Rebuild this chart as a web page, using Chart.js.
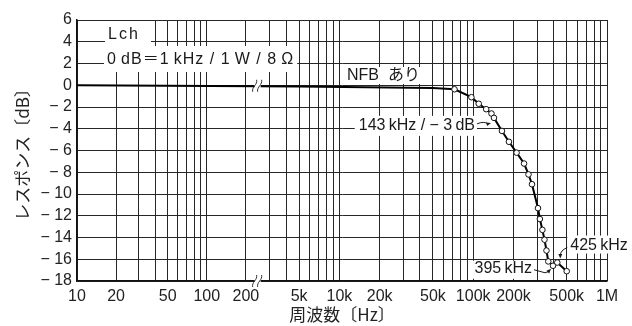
<!DOCTYPE html>
<html lang="ja">
<head>
<meta charset="UTF-8">
<title>周波数特性</title>
<style>
  html, body { margin: 0; padding: 0; background: #fff; }
  canvas { display: block; }
</style>
</head>
<body>
<canvas id="myChart" width="632" height="326"></canvas>

<script src="https://cdn.jsdelivr.net/npm/chart.js"></script>
<script>
// measured response with NFB (Lch), Hz / dB
const freqHz = [10, 5000, 50000, 72500, 97000, 110000, 125000, 137000, 143000, 164000, 185000, 211000,
                240000, 259000, 275000, 305000, 315000, 329000, 341000, 353000, 364000, 395000, 425000, 500000];
const responseDb = [0, -0.12, -0.25, -0.37, -1.1, -1.7, -2.2, -2.6, -3.0, -4.2, -5.2, -6.2,
                    -7.2, -8.2, -9.1, -11.3, -12.3, -13.3, -14.2, -15.2, -16.2, -16.6, -16.3, -17.1];
const markerFrom = 3; // points before this are the flat part, no circle

// vertical grid lines (the 300 Hz..2 kHz range is cut out of the axis)
const gridFreqs = [10, 20, 30, 40, 50, 60, 70, 80, 90, 100, 200,
                   3000, 4000, 5000, 6000, 7000, 8000, 9000, 10000,
                   20000, 30000, 40000, 50000, 60000, 70000, 80000, 90000, 100000,
                   200000, 300000, 400000, 500000, 600000, 700000, 800000, 900000, 1000000];
const labelFreqs = [10, 20, 50, 100, 200, 5000, 10000, 20000, 50000, 100000, 200000, 500000, 1000000];
const labelTexts = ['10', '20', '50', '100', '200', '5k', '10k', '20k', '50k', '100k', '200k', '500k', '1M'];

const dbMin = -18, dbMax = 6, dbStep = 2;

// log axis with a break: 200 Hz on the left part joins 2 kHz on the right part
function toAxis(f) {
    const left = (Math.log10(Math.min(f, 200)) - 1) * 0.97;
    if (f <= 250) return (Math.log10(f) - 1) * 0.97;
    return left + Math.log10(f / 2000);
}
const breakAt = (toAxis(200) + toAxis(3000)) / 2;

const points = freqHz.map((f, i) => ({x: toAxis(f), y: responseDb[i]}));

const numFont = {family: 'Liberation Sans', size: 16};
const jpFont = '16px "Liberation Sans", "Noto Sans CJK JP"';
const refText = '0\u2009dB\uff1d1\u2009kHz / 1\u2009W / 8\u2009\u03a9';
const cutText = '143\u2009kHz / \u2212 3\u2009dB';

function dbLabel(v) {
    return v < 0 ? '\u2212 ' + (-v) : String(v);
}

function arrowHead(ctx, x, y, ang) {
    ctx.beginPath();
    ctx.moveTo(x, y);
    ctx.lineTo(x - 5 * Math.cos(ang - 0.4), y - 5 * Math.sin(ang - 0.4));
    ctx.lineTo(x - 5 * Math.cos(ang + 0.4), y - 5 * Math.sin(ang + 0.4));
    ctx.closePath();
    ctx.fill();
}

const notes = {
    id: 'notes',
    beforeDatasetsDraw(chart) {
        const {ctx, chartArea: a, scales: {x, y}} = chart;
        ctx.save();
        ctx.font = jpFont;
        ctx.fillStyle = '#fff';
        // white boxes behind the texts
        ctx.fillRect(a.left + 28, a.top + 1, 46, 26);
        ctx.letterSpacing = '1px';
        const w2 = ctx.measureText(refText).width;
        ctx.fillRect(a.left + 27, a.top + 26, w2 + 6, 26);
        ctx.letterSpacing = '0px';
        ctx.fillRect(a.left + 266, a.top + 47, 80, 17);

        const p3 = {x: x.getPixelForValue(toAxis(143000)), y: y.getPixelForValue(-3)};
        const w3 = ctx.measureText(cutText).width;
        ctx.fillRect(p3.x - 19 - w3 - 4, p3.y - 2, w3 + 6, 20);

        const p395 = {x: x.getPixelForValue(toAxis(395000)), y: y.getPixelForValue(-16.6)};
        const w4 = ctx.measureText('395\u2009kHz').width;
        ctx.fillRect(p395.x - 21 - w4 - 3, p395.y - 5, w4 + 5, 18);

        const p425 = {x: x.getPixelForValue(toAxis(425000)), y: y.getPixelForValue(-16.3)};
        ctx.fillRect(p425.x + 10, p425.y - 27, 62, 18);
        ctx.restore();
    },
    afterDatasetsDraw(chart) {
        const {ctx, chartArea: a, scales: {x, y}} = chart;
        ctx.save();
        ctx.fillStyle = '#1a1a1a';
        ctx.strokeStyle = '#1a1a1a';
        ctx.lineWidth = 1;
        ctx.textBaseline = 'middle';
        ctx.font = jpFont;

        ctx.textAlign = 'left';
        ctx.letterSpacing = '2px';
        ctx.fillText('Lch', a.left + 31, a.top + 15);
        ctx.letterSpacing = '1px';
        ctx.fillText(refText, a.left + 30, a.top + 40);
        ctx.letterSpacing = '0px';
        ctx.fillText('NFB  \u3042\u308a', a.left + 270, a.top + 56);

        // -3 dB point
        const p3 = {x: x.getPixelForValue(toAxis(143000)), y: y.getPixelForValue(-3)};
        ctx.textAlign = 'right';
        ctx.fillText(cutText, p3.x - 19, p3.y + 8);
        ctx.beginPath();
        ctx.moveTo(p3.x - 17, p3.y + 6);
        ctx.quadraticCurveTo(p3.x - 10, p3.y + 3, p3.x - 6, p3.y + 6);
        ctx.stroke();
        arrowHead(ctx, p3.x - 3, p3.y + 5, -0.3);

        // 395 kHz
        const p395 = {x: x.getPixelForValue(toAxis(395000)), y: y.getPixelForValue(-16.6)};
        ctx.fillText('395\u2009kHz', p395.x - 21, p395.y + 3);
        ctx.beginPath();
        ctx.moveTo(p395.x - 19, p395.y + 4);
        ctx.lineTo(p395.x - 8, p395.y + 7);
        ctx.lineTo(p395.x - 5, p395.y + 6);
        ctx.stroke();
        arrowHead(ctx, p395.x - 2, p395.y + 3, -0.8);

        // 425 kHz
        const p425 = {x: x.getPixelForValue(toAxis(425000)), y: y.getPixelForValue(-16.3)};
        ctx.textAlign = 'left';
        ctx.fillText('425\u2009kHz', p425.x + 13, p425.y - 17);
        ctx.beginPath();
        ctx.moveTo(p425.x + 10, p425.y - 15);
        ctx.quadraticCurveTo(p425.x + 3, p425.y - 12, p425.x + 3, p425.y - 7);
        ctx.stroke();
        arrowHead(ctx, p425.x + 3, p425.y - 4, Math.PI / 2);

        // axis break marks
        const bx = x.getPixelForValue(breakAt);
        [y.getPixelForValue(-0.05), a.bottom].forEach(by => {
            ctx.fillStyle = '#fff';
            ctx.fillRect(bx - 3, by - 2, 6, 4);
            ctx.strokeStyle = '#333';
            for (const dx of [-3, 2]) {
                ctx.beginPath();
                ctx.moveTo(bx + dx - 2, by + 6);
                ctx.bezierCurveTo(bx + dx - 3, by + 1, bx + dx + 3, by - 1, bx + dx + 2, by - 6);
                ctx.stroke();
            }
        });
        ctx.restore();
    }
};

new Chart(document.getElementById('myChart'), {
    type: 'line',
    data: {
        datasets: [{
            label: 'NFB あり',
            data: points,
            borderColor: '#000',
            borderWidth: 2,
            tension: 0,
            pointRadius: c => c.dataIndex >= markerFrom ? 2.8 : 0,
            pointBackgroundColor: '#fff',
            pointBorderColor: '#111',
            pointBorderWidth: 1
        }]
    },
    options: {
        responsive: false,
        animation: false,
        devicePixelRatio: 1,
        layout: {padding: {top: 20, right: 25, left: 0, bottom: 0}},
        plugins: {legend: {display: false}, tooltip: {enabled: false}},
        scales: {
            x: {
                type: 'linear',
                min: 0,
                max: toAxis(1000000),
                afterBuildTicks: s => { s.ticks = gridFreqs.map(f => ({value: toAxis(f)})); },
                afterFit: s => { s.height = 45; },
                grid: {color: '#262626', lineWidth: 1, drawTicks: false},
                border: {color: '#111', width: 1.5},
                ticks: {
                    autoSkip: false,
                    maxRotation: 0,
                    padding: 6,
                    color: '#222',
                    font: numFont,
                    callback: (v, i) => {
                        const k = labelFreqs.indexOf(gridFreqs[i]);
                        return k >= 0 ? labelTexts[k] : '';
                    }
                },
                title: {
                    display: true,
                    text: '周波数〔Hz〕',
                    color: '#222',
                    font: {family: 'Noto Sans CJK JP', size: 17},
                    padding: {top: 0, bottom: 1}
                }
            },
            y: {
                min: dbMin,
                max: dbMax,
                afterFit: s => { s.width = 77; },
                grid: {color: '#262626', lineWidth: 1, drawTicks: false},
                border: {color: '#111', width: 1.5},
                ticks: {
                    stepSize: dbStep,
                    autoSkip: false,
                    padding: 5,
                    color: '#222',
                    font: numFont,
                    callback: v => dbLabel(v)
                },
                title: {
                    display: true,
                    text: 'レスポンス〔dB〕',
                    color: '#222',
                    font: {family: 'Noto Sans CJK JP', size: 17},
                    padding: {top: 12, bottom: 0}
                }
            }
        }
    },
    plugins: [notes]
});
</script>
</body>
</html>
